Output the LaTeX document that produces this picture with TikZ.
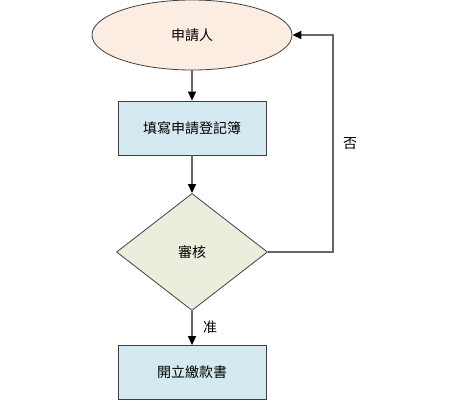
\documentclass[tikz,border=0pt]{standalone}
\usepackage{fontspec}
\usepackage{xcolor}
\usetikzlibrary{shapes.geometric,arrows.meta}
\newfontfamily\cjk{Noto Sans CJK TC}
\definecolor{startfill}{HTML}{FCEDE2}
\definecolor{boxfill}{HTML}{D5EAF0}
\definecolor{checkfill}{HTML}{EBEEDD}
\definecolor{edgegray}{HTML}{404040}
\definecolor{linegray}{HTML}{666666}
\tikzset{
  startnode/.style={ellipse, draw=edgegray, fill=startfill, line width=0.8pt,
    minimum width=200pt, minimum height=70pt, inner sep=0pt},
  taskbox/.style={rectangle, draw=edgegray, fill=boxfill, line width=0.8pt,
    minimum width=148pt, minimum height=54pt, inner sep=0pt},
  checknode/.style={diamond, draw=edgegray, fill=checkfill, line width=0.8pt,
    minimum width=151pt, minimum height=117pt, inner sep=0pt},
  flow/.style={draw=linegray, line width=1.4pt,
    -{Triangle[length=9pt,width=8pt,fill=black,color=black]}},
}
\begin{document}
\begin{tikzpicture}[x=1pt,y=-1pt,font=\cjk\fontsize{14}{16}\selectfont]
            \useasboundingbox (0,0) rectangle (450,400);
            \node[startnode] (applicant) at (192,35) {申請人};
            \node[taskbox] (register) at (192,128) {填寫申請登記簿};
            \node[checknode] (review) at (192,252) {審核};
            \node[taskbox] (notice) at (192,372.5) {開立繳款書};
            \coordinate (loopdown) at (333,252);
            \coordinate (loopup) at (333,35);
            \draw[flow] (applicant) -- (register);
            \draw[flow] (register) -- (review);
            \draw[flow] (review) -- node[right, xshift=7pt, yshift=1pt] {准} (notice);
            \draw[flow] (review.east) -- (loopdown) -- node[right, pos=0.5, xshift=6pt] {否} (loopup) -- (applicant.east);
        \end{tikzpicture}
\end{document}
